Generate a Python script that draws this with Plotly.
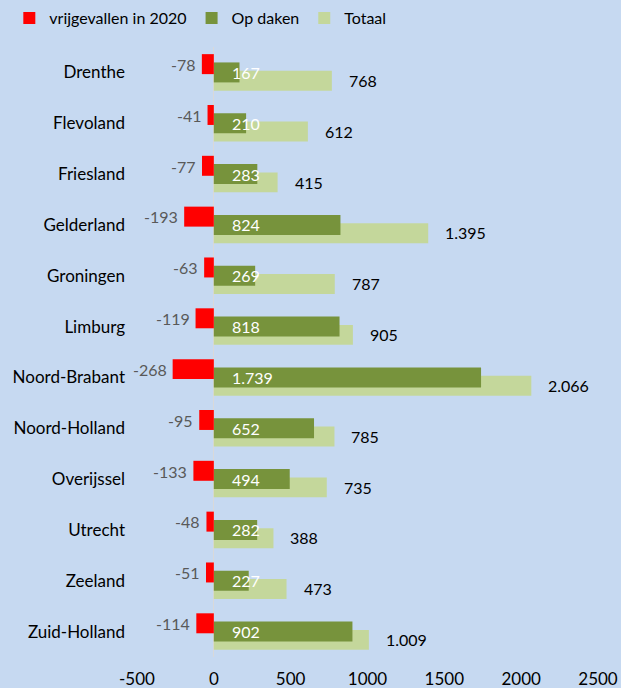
import plotly.graph_objects as go

provinces = ["Drenthe", "Flevoland", "Friesland", "Gelderland", "Groningen", "Limburg",
             "Noord-Brabant", "Noord-Holland", "Overijssel", "Utrecht", "Zeeland", "Zuid-Holland"]
vrijgevallen = [-78, -41, -77, -193, -63, -119, -268, -95, -133, -48, -51, -114]
op_daken = [167, 210, 283, 824, 269, 818, 1739, 652, 494, 282, 227, 902]
totaal = [768, 612, 415, 1395, 787, 905, 2066, 785, 735, 388, 473, 1009]
x_ticks = [-500, 0, 500, 1000, 1500, 2000, 2500]

FONT = "Lato"
BG = "#c6d9f1"
RED = "#ff0000"
GREEN = "#77933c"
LIGHT = "#c4d79b"

def nl(v):
    return f"{v:,}".replace(",", ".")

W = 0.393
STEP = 0.163

fig = go.Figure()
fig.add_trace(go.Bar(
    y=provinces, x=totaal, orientation="h", name="Totaal",
    marker=dict(color=LIGHT, line=dict(width=0)),
    width=W, offset=STEP - W / 2, legendrank=3,
))
fig.add_trace(go.Bar(
    y=provinces, x=op_daken, orientation="h", name="Op daken",
    marker=dict(color=GREEN, line=dict(width=0)),
    width=W, offset=-W / 2, legendrank=2,
))
fig.add_trace(go.Bar(
    y=provinces, x=vrijgevallen, orientation="h", name="vrijgevallen in 2020",
    marker=dict(color=RED, line=dict(width=0)),
    width=W, offset=-STEP - W / 2, legendrank=1,
))

annotations = []
for p, v in zip(provinces, vrijgevallen):
    annotations.append(dict(
        x=v, y=p, xref="x", yref="y", text=nl(v), showarrow=False,
        xanchor="right", yanchor="middle", xshift=-4, yshift=8,
        font=dict(family=FONT, size=16, color="#595959"),
    ))
for p, v in zip(provinces, op_daken):
    annotations.append(dict(
        x=0, y=p, xref="x", yref="y", text=nl(v), showarrow=False,
        xanchor="left", yanchor="middle", xshift=16, yshift=0,
        font=dict(family=FONT, size=16, color="white"),
    ))
for p, v in zip(provinces, totaal):
    annotations.append(dict(
        x=v, y=p, xref="x", yref="y", text=nl(v), showarrow=False,
        xanchor="left", yanchor="middle", xshift=15, yshift=-8,
        font=dict(family=FONT, size=16, color="black"),
    ))

fig.update_layout(
    width=621, height=688,
    margin=dict(l=137, r=23, t=47, b=31),
    paper_bgcolor=BG, plot_bgcolor=BG,
    barmode="overlay",
    font=dict(family=FONT, size=16, color="black"),
    showlegend=True,
    legend=dict(orientation="h", xref="container", x=0.015, xanchor="left",
                yref="container", y=1 - 18 / 688, yanchor="middle",
                font=dict(family=FONT, size=16, color="black"),
                bgcolor="rgba(0,0,0,0)", itemwidth=30, tracegroupgap=0),
    annotations=annotations,
    xaxis=dict(range=[-500, 2500], tickvals=x_ticks, ticktext=[str(t) for t in x_ticks],
               showgrid=False, zeroline=True, zerolinecolor="#d9d9d9", zerolinewidth=1,
               showline=False, ticks="", ticklabelstandoff=10, automargin=False,
               tickfont=dict(family=FONT, size=17, color="black")),
    yaxis=dict(autorange="reversed", showgrid=False, zeroline=False, showline=False,
               ticks="", ticklabelstandoff=11, automargin=False,
               tickfont=dict(family=FONT, size=17, color="black")),
)

fig.write_html("out.html")
